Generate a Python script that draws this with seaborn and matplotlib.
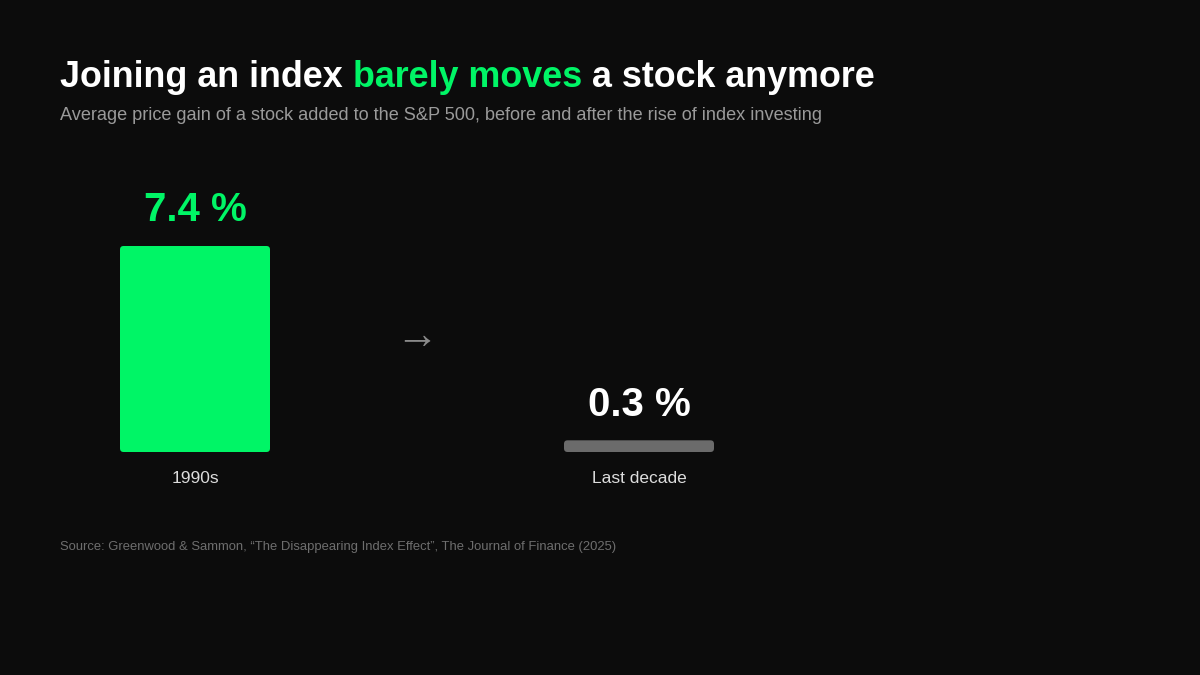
import matplotlib
matplotlib.use("Agg")
import matplotlib.pyplot as plt
import seaborn as sns
import pandas as pd
from matplotlib.patches import FancyBboxPatch

# ---- data ----
periods = ["1990s", "Last decade"]
gains = [7.4, 0.3]
value_labels = ["7.4 %", "0.3 %"]

title_parts = ["Joining an index ", "barely moves", " a stock anymore"]
subtitle = "Average price gain of a stock added to the S&P 500, before and after the rise of index investing"
source = "Source: Greenwood & Sammon, \u201cThe Disappearing Index Effect\u201d, The Journal of Finance (2025)"

# ---- style ----
BG = "#0c0c0c"
GREEN = "#00f566"
GRAY_BAR = "#6b6b6b"
sns.set_theme(style="white")
plt.rcParams["font.family"] = ["Liberation Sans", "DejaVu Sans"]

fig = plt.figure(figsize=(12, 6.75), dpi=100, facecolor=BG)
ax = fig.add_axes([0, 0, 1, 1])
ax.set_facecolor(BG)

df = pd.DataFrame({"period": periods, "gain": gains})
sns.barplot(data=df, x="period", y="gain", order=periods, ax=ax,
            width=150 / 444, palette=[GREEN, GRAY_BAR], hue="period", legend=False)

# axis scaling: category spacing 444 px, bar base at y=452 px from top
px_per_cat = 444.0
px_per_unit = 206.0 / 7.4
x0 = -195.0 / px_per_cat
ax.set_xlim(x0, x0 + 1200.0 / px_per_cat)
y0 = -(675.0 - 452.0) / px_per_unit
ax.set_ylim(y0, y0 + 675.0 / px_per_unit)
ax.axis("off")

# replace bars with rounded versions (min visible height for tiny values)
min_h = 0.42
colors = [GREEN, GRAY_BAR]
for i, p in enumerate(list(ax.patches)):
    x, w, h = p.get_x(), p.get_width(), max(p.get_height(), min_h)
    p.set_visible(False)
    rb = FancyBboxPatch((x, 0), w, h,
                        boxstyle="round,pad=0,rounding_size=0.008",
                        mutation_aspect=px_per_cat / px_per_unit,
                        facecolor=colors[i], edgecolor="none", zorder=3)
    ax.add_patch(rb)
    lbl_color = GREEN if i == 0 else "white"
    ax.annotate(value_labels[i], xy=(i, h), xytext=(0, 12), textcoords="offset points",
                ha="center", va="bottom", fontsize=29, fontweight="bold", color=lbl_color)
    ax.annotate(periods[i], xy=(i, 0), xytext=(0, -13.5), textcoords="offset points",
                ha="center", va="top", fontsize=12.5, color="#dddddd")

# arrow between periods
ax.text(0.5, (452 - 337) / px_per_unit, "\u2192", ha="center", va="center",
        fontsize=31, color="#8a8a8a", family=["Liberation Sans", "DejaVu Sans"])

# ---- titles ----
TS = 25.8
t1 = fig.text(60 / 1200, 1 - 87 / 675, title_parts[0], fontsize=TS, fontweight="bold",
              color="white", ha="left", va="baseline")
t2 = ax.annotate(title_parts[1], xy=(1, 0), xycoords=t1, fontsize=TS, fontweight="bold",
                 color=GREEN, ha="left", va="bottom")
t3 = ax.annotate(title_parts[2], xy=(1, 0), xycoords=t2, fontsize=TS, fontweight="bold",
                 color="white", ha="left", va="bottom")

fig.text(60 / 1200, 1 - 116 / 675, subtitle, fontsize=13.1, color="#9a9a9a",
         ha="left", va="center")
fig.text(60 / 1200, 1 - 547 / 675, source, fontsize=9.4, color="#6e6e6e",
         ha="left", va="center")

fig.savefig("out.png", dpi=100, facecolor=BG)
